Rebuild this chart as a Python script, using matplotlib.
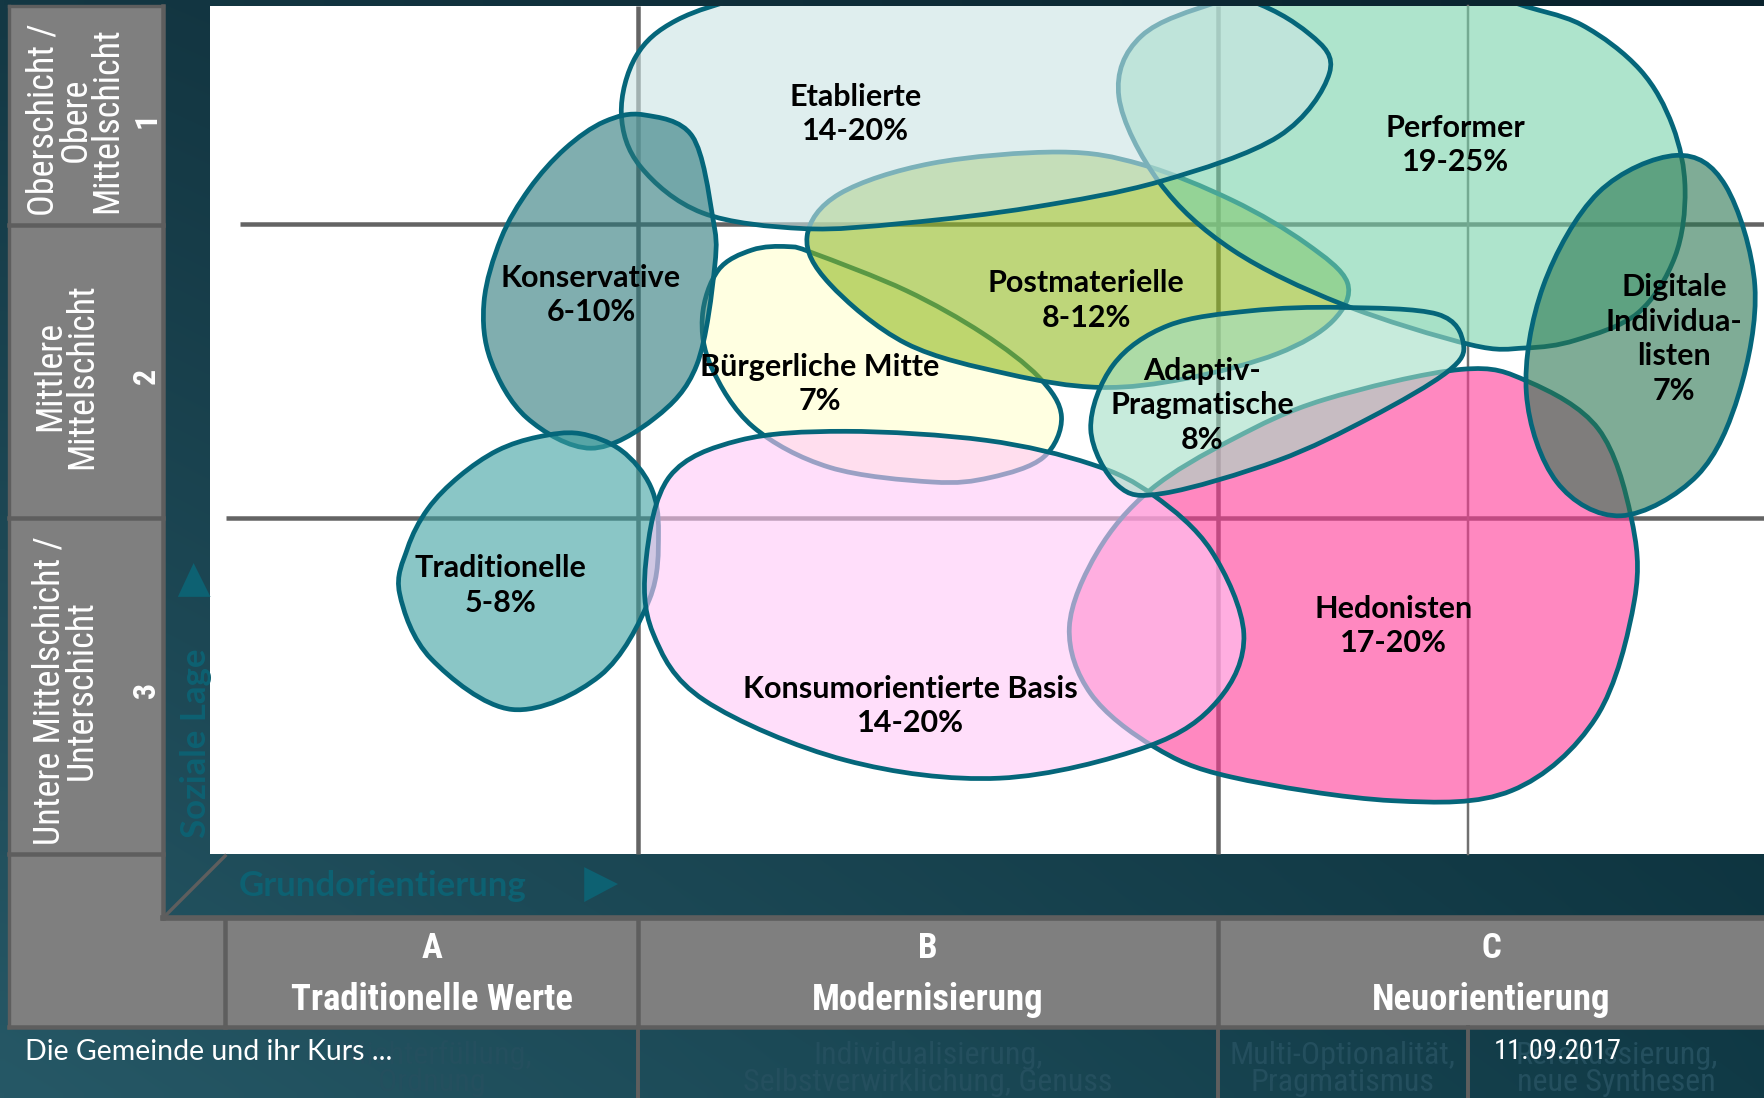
import os
import numpy as np
import matplotlib
matplotlib.use("Agg")
import matplotlib.pyplot as plt
from matplotlib.path import Path
from matplotlib.patches import PathPatch, Rectangle, Polygon
from matplotlib import font_manager as fm

# ---------------------------------------------------------------- data
MILIEU_NAMES = ["Hedonisten", "Bürgerliche Mitte", "Postmaterielle", "Performer",
                "Etablierte", "Konservative", "Traditionelle",
                "Konsumorientierte Basis", "Adaptiv-Pragmatische",
                "Digitale Individualisten"]
MILIEU_LABELS = ["Hedonisten\n17-20%", "Bürgerliche Mitte\n7%", "Postmaterielle\n8-12%",
                 "Performer\n19-25%", "Etablierte\n14-20%", "Konservative\n6-10%",
                 "Traditionelle\n5-8%", "Konsumorientierte Basis\n14-20%",
                 "Adaptiv-\nPragmatische\n8%", "Digitale\nIndividua-\nlisten\n7%"]
# observed colours of each milieu where it does not overlap (over white)
MILIEU_COLORS = ["#ff88c0", "#ffffe1", "#bed67a", "#aee4cc", "#e0efef",
                 "#80aeb0", "#8ac6c6", "#ffdefa", "#c8ecdc", "#7fad96"]
# label anchor (map coordinates: x = Grundorientierung, y = Soziale Lage, screen units)
LABEL_X = [1238, 728, 965, 1293, 760, 525, 445, 809, 1068, 1487]
LABEL_Y = [556, 341, 267, 129, 101, 262, 520, 627, 360, 301]

OUTLINE_HEDONISTEN = [(950, 557), (969, 616), (1025, 663), (1094, 690), (1237, 711),
                      (1343, 702), (1418, 637), (1452, 533), (1449, 459), (1420, 381),
                      (1358, 339), (1298, 328), (1176, 355), (1095, 390), (1022, 435),
                      (975, 490)]
OUTLINE_BUERGERLICHE_MITTE = [(624, 281), (638, 240), (668, 222), (700, 219), (723, 225),
                              (805, 258), (873, 296), (923, 335), (943, 370), (927, 406),
                              (880, 424), (828, 428), (737, 415), (669, 379), (632, 326)]
OUTLINE_POSTMATERIELLE = [(717, 210), (746, 172), (828, 145), (941, 135), (1014, 146),
                          (1095, 178), (1160, 216), (1197, 251), (1184, 285), (1135, 314),
                          (1054, 336), (977, 344), (895, 332), (805, 305), (737, 252)]
OUTLINE_PERFORMER = [(994, 86), (1014, 32), (1087, 0), (1200, -30), (1290, -25),
                     (1345, 2), (1405, 22), (1457, 62), (1486, 112), (1497, 168),
                     (1488, 228), (1455, 278), (1400, 302), (1355, 309), (1306, 306),
                     (1192, 270), (1095, 222), (1030, 162)]
OUTLINE_ETABLIERTE = [(552, 101), (569, 148), (624, 189), (714, 203), (805, 198),
                      (918, 184), (1031, 161), (1136, 121), (1181, 65), (1163, 30),
                      (1095, -5), (950, -38), (780, -32), (669, -5), (601, 18),
                      (565, 50)]
OUTLINE_KONSERVATIVE = [(572, 102), (615, 121), (633, 192), (635, 236), (619, 324),
                        (582, 371), (525, 398), (468, 371), (436, 320), (430, 268),
                        (445, 212), (470, 168), (502, 132), (537, 108)]
OUTLINE_TRADITIONELLE = [(355, 527), (362, 487), (380, 452), (408, 423), (442, 400),
                         (478, 388), (515, 385), (552, 400), (578, 432), (585, 473),
                         (577, 532), (533, 600), (455, 630), (383, 585)]
OUTLINE_KONSUM_BASIS = [(574, 497), (595, 423), (657, 391), (751, 383), (876, 391),
                        (969, 412), (1025, 440), (1076, 489), (1105, 563), (1082, 622),
                        (1019, 663), (888, 691), (751, 675), (626, 622), (580, 562)]
OUTLINE_ADAPTIV = [(1111, 276), (1192, 273), (1277, 279), (1300, 305), (1286, 330),
                   (1217, 371), (1135, 409), (1034, 438), (993, 431), (969, 381),
                   (989, 324), (1038, 289)]
OUTLINE_DIGITALE = [(1489, 138), (1533, 165), (1559, 254), (1545, 349), (1508, 422),
                    (1440, 458), (1383, 428), (1356, 349), (1371, 254), (1420, 171)]
MILIEU_OUTLINES = [OUTLINE_HEDONISTEN, OUTLINE_BUERGERLICHE_MITTE, OUTLINE_POSTMATERIELLE,
                   OUTLINE_PERFORMER, OUTLINE_ETABLIERTE, OUTLINE_KONSERVATIVE,
                   OUTLINE_TRADITIONELLE, OUTLINE_KONSUM_BASIS, OUTLINE_ADAPTIV,
                   OUTLINE_DIGITALE]

ROW_LABELS = ["Oberschicht /\nObere\nMittelschicht", "Mittlere\nMittelschicht",
              "Untere Mittelschicht /\nUnterschicht"]
ROW_CODES = ["1", "2", "3"]
COLUMN_CODES = ["A", "B", "C"]
COLUMN_TITLES = ["Traditionelle Werte", "Modernisierung", "Neuorientierung"]
COLUMN_SUBTITLES = ["Pflichterfüllung,\nOrdnung",
                    "Individualisierung,\nSelbstverwirklichung, Genuss",
                    "Multi-Optionalität,\nPragmatismus",
                    "Refokussierung,\nneue Synthesen"]
Y_AXIS_TITLE = "Soziale Lage"
X_AXIS_TITLE = "Grundorientierung"
FOOTER_LEFT = "Die Gemeinde und ihr Kurs ..."
FOOTER_DATE = "11.09.2017"

# ---------------------------------------------------------------- layout / style
W, H = 1568, 975
PLOT_L, PLOT_R, PLOT_T, PLOT_B = 187, 1568, 5, 758
ROW_EDGES = [5, 200, 460, 758]
COL_EDGES = [200, 567, 1082, 1568]
SUB_COL_EDGES = [200, 567, 1082, 1304, 1568]
STRIP_T, STRIP_B = 815, 912
PANEL_L, PANEL_R = 8, 145
GRID_H = [(213, 199), (201, 460)]
GRID_V = [567, 1082]
GRID_V_THIN = 1304

ALPHA = 0.6
EDGE = "#05667a"
GRAY = "#7f7f7f"
DARK = "#5e5e5e"
TEAL_TXT = "#0d6172"
U2PT = 1765 / 1568 * 0.72


def has_font(name):
    try:
        fm.findfont(fm.FontProperties(family=name), fallback_to_default=False)
        return True
    except Exception:
        return False


LABEL_FONT = "Lato" if has_font("Lato") else "DejaVu Sans"
FAMILY_PRIORITY = ["liberation sans narrow", "roboto condensed", "noto sans", "open sans",
                   "dejavu sans", "liberation sans", "roboto"]


def weight_num(w):
    if isinstance(w, (int, float)):
        return int(w)
    return fm.weight_dict.get(str(w), 400)


def pick_narrow(bold):
    best, best_score = None, None
    for f in fm.fontManager.ttflist:
        nm = f.name.lower()
        fn = os.path.basename(f.fname).lower()
        tag = nm + " " + fn
        if "narrow" not in tag and "condensed" not in tag and "cond" not in fn:
            continue
        if f.style != "normal" or "italic" in fn:
            continue
        width_pen = 0
        if "extracondensed" in fn or "extra" in fn or "ultra" in fn:
            width_pen = 3
        elif "semicondensed" in fn or "semi" in fn:
            width_pen = 1
        fam_pen = 10
        for i, fam in enumerate(FAMILY_PRIORITY):
            if nm.startswith(fam):
                fam_pen = i
                break
        target = 700 if bold else 400
        score = abs(weight_num(f.weight) - target) / 100.0 * 3 + width_pen * 2 + fam_pen
        if best_score is None or score < best_score:
            best, best_score = f, score
    if best is None:
        return fm.FontProperties(family="Roboto", weight="bold" if bold else "normal")
    return fm.FontProperties(fname=best.fname)


NARROW_REG = pick_narrow(False)
NARROW_BOLD = pick_narrow(True)


def fp(base, size):
    p = base.copy()
    p.set_size(size)
    return p


def closed_curve(points):
    p = np.asarray(points, float)
    n = len(p)
    verts = [p[0]]
    codes = [Path.MOVETO]
    for i in range(n):
        p0, p1, p2, p3 = p[i - 1], p[i], p[(i + 1) % n], p[(i + 2) % n]
        c1 = p1 + (p2 - p0) / 6.0
        c2 = p2 - (p3 - p1) / 6.0
        verts += [c1, c2, p2]
        codes += [Path.CURVE4] * 3
    verts.append(p[0])
    codes.append(Path.CLOSEPOLY)
    return Path(verts, codes)


def fill_rgba(hexcol):
    obs = np.array(matplotlib.colors.to_rgb(hexcol))
    c = np.clip((obs - (1 - ALPHA)) / ALPHA, 0, 1)
    return (c[0], c[1], c[2], ALPHA)


fig = plt.figure(figsize=(17.65, 10.98), dpi=100)
ax = fig.add_axes([0, 0, 1, 1])
ax.axis("off")

# background gradient
yy, xx = np.mgrid[0:1:120j, 0:1:200j]
xx = xx[..., None]
yy = yy[..., None]
tl = np.array([20, 56, 68]); tr = np.array([9, 34, 44])
bl = np.array([38, 88, 102]); br = np.array([16, 58, 70])
img = (tl * (1 - xx) * (1 - yy) + tr * xx * (1 - yy) + bl * (1 - xx) * yy + br * xx * yy) / 255.0
ax.imshow(img, extent=[0, W, H, 0], aspect="auto", zorder=0, interpolation="bilinear")
ax.set_xlim(0, W)
ax.set_ylim(H, 0)

# white map area
white = Rectangle((PLOT_L, PLOT_T), PLOT_R - PLOT_L, PLOT_B - PLOT_T, fc="white", ec="none", zorder=1)
ax.add_patch(white)

# grid lines
for x0, y in GRID_H:
    ax.plot([x0, PLOT_R], [y, y], color="#646464", lw=4 * U2PT, zorder=2, solid_capstyle="butt")
for x in GRID_V:
    ax.plot([x, x], [PLOT_T, PLOT_B], color="#646464", lw=4 * U2PT, zorder=2, solid_capstyle="butt")
ax.plot([GRID_V_THIN, GRID_V_THIN], [PLOT_T, PLOT_B], color="#707070", lw=2.2 * U2PT, zorder=2)

# milieu blobs
for i, (pts, col) in enumerate(zip(MILIEU_OUTLINES, MILIEU_COLORS)):
    patch = PathPatch(closed_curve(pts), fc=fill_rgba(col), ec=EDGE, lw=4.2 * U2PT, zorder=3 + i)
    ax.add_patch(patch)
    patch.set_clip_path(white)

for lab, x, y in zip(MILIEU_LABELS, LABEL_X, LABEL_Y):
    ax.text(x, y, lab, ha="center", va="center", fontsize=22, fontweight="bold",
            family=LABEL_FONT, color="black", linespacing=1.28, zorder=30)

# left panel and bottom strip (grey cells)
ax.add_patch(Rectangle((PANEL_L, ROW_EDGES[0]), PANEL_R - PANEL_L, STRIP_B - ROW_EDGES[0],
                       fc=GRAY, ec="none", zorder=10))
ax.add_patch(Rectangle((PANEL_R - 1, STRIP_T), W - PANEL_R + 2, STRIP_B - STRIP_T,
                       fc=GRAY, ec="none", zorder=10))
ln = dict(color=DARK, zorder=12, solid_capstyle="projecting")
for y in ROW_EDGES[1:]:
    ax.plot([PANEL_L, PANEL_R], [y, y], lw=4 * U2PT, **ln)
for x in COL_EDGES[:-1]:
    ax.plot([x, x], [STRIP_T, STRIP_B], lw=4 * U2PT, **ln)
ax.plot([PANEL_L, PANEL_L], [ROW_EDGES[0], STRIP_B], lw=3 * U2PT, **ln)
ax.plot([PANEL_L, PANEL_R], [ROW_EDGES[0], ROW_EDGES[0]], lw=3 * U2PT, **ln)
ax.plot([PANEL_R, PANEL_R], [ROW_EDGES[0], STRIP_T], lw=4 * U2PT, **ln)
ax.plot([PANEL_R, W], [STRIP_T, STRIP_T], lw=5 * U2PT, **ln)
ax.plot([PANEL_L, W], [STRIP_B, STRIP_B], lw=4 * U2PT, **ln)
ax.plot([PANEL_R, PLOT_L + 13], [STRIP_T, PLOT_B + 2], color=DARK, lw=3 * U2PT, zorder=12)
for x in SUB_COL_EDGES[1:-1]:
    ax.plot([x, x], [STRIP_B, H], color=DARK, lw=3.5 * U2PT, zorder=12)

row_text_x = [67, 59, 58]
for lab, code, y0, y1, tx in zip(ROW_LABELS, ROW_CODES, ROW_EDGES[:-1], ROW_EDGES[1:], row_text_x):
    yc = (y0 + y1) / 2 + 4
    ax.text(tx, yc, lab, rotation=90, ha="center", va="center", fontproperties=fp(NARROW_REG, 26),
            color="white", linespacing=0.86, zorder=20)
    ax.text(130, yc, code, rotation=90, ha="center", va="center", fontproperties=fp(NARROW_BOLD, 23),
            color="white", zorder=20)

for code, title, x0, x1 in zip(COLUMN_CODES, COLUMN_TITLES, COL_EDGES[:-1], COL_EDGES[1:]):
    xc = (x0 + x1) / 2
    ax.text(xc, 842, code, ha="center", va="center", fontproperties=fp(NARROW_BOLD, 25),
            color="white", zorder=20)
    ax.text(xc, 888, title, ha="center", va="center", fontproperties=fp(NARROW_BOLD, 26.5),
            color="white", zorder=20)

for sub, x0, x1 in zip(COLUMN_SUBTITLES, SUB_COL_EDGES[:-1], SUB_COL_EDGES[1:]):
    ax.text((x0 + x1) / 2, 949, sub, ha="center", va="center", fontproperties=fp(NARROW_REG, 23),
            color="#244f5e", linespacing=0.9, zorder=13)

# axis titles with arrows
ax.text(174, 660, Y_AXIS_TITLE, rotation=90, ha="center", va="center", fontsize=25,
        family=LABEL_FONT, fontweight="bold", color=TEAL_TXT, zorder=13)
ax.add_patch(Polygon([(158, 530), (187, 530), (172, 500)], closed=True, fc=TEAL_TXT, ec="none", zorder=13))
ax.text(212, 787, X_AXIS_TITLE, ha="left", va="center", fontsize=25,
        family=LABEL_FONT, fontweight="bold", color=TEAL_TXT, zorder=13)
ax.add_patch(Polygon([(519, 770), (519, 801), (549, 785)], closed=True, fc=TEAL_TXT, ec="none", zorder=13))

# footer
ax.text(22, 934, FOOTER_LEFT, ha="left", va="center", fontsize=20.5, family=LABEL_FONT,
        color="white", zorder=25)
ax.text(1327, 934, FOOTER_DATE, ha="left", va="center", fontproperties=fp(NARROW_REG, 20.5),
        color="white", zorder=25)

fig.savefig("out.png", dpi=100)
